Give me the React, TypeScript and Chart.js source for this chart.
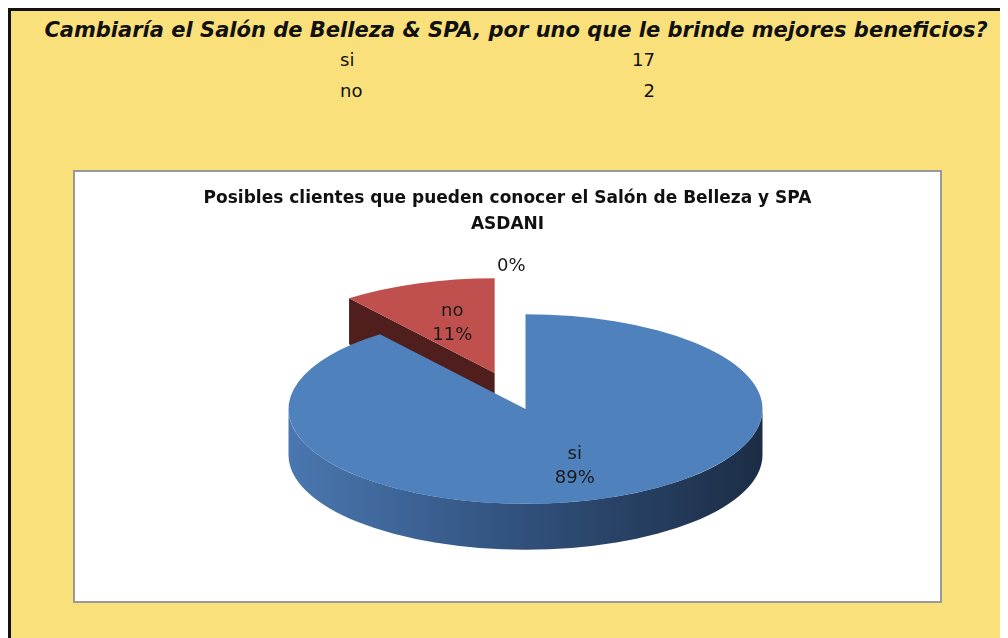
import React, { useEffect, useRef } from "react";
import { Chart, registerables } from "chart.js";
Chart.register(...registerables);

const pageTitle = "Cambiaría el Salón de Belleza & SPA, por uno que le brinde mejores beneficios?";
const chartTitle = ["Posibles clientes que pueden conocer el Salón de Belleza y SPA", "ASDANI"];
const categories = ["si", "no", ""];
const values = [17, 2, 0];
const sliceColors = ["#4F81BD", "#C0504D", "#9BBB59"];

const K = 0.4;
const DEPTH = 46;

const pie3d = {
  id: "pie3d",
  afterDatasetUpdate(chart: any, args: any, opts: any) {
    const meta = args.meta;
    if (!meta.data.length) return;
    const shift = opts.shiftX || 0;
    const shiftY = opts.shiftY || 0;
    chart.$pc = { x: meta.data[0].x + shift, y: meta.data[0].y + shiftY };
    meta.data.forEach((el: any, i: number) => {
      const d = (opts.explode || [])[i] || 0;
      const mid = (el.startAngle + el.endAngle) / 2;
      el.x += shift + Math.cos(mid) * d;
      el.y += shiftY + Math.sin(mid) * d;
    });
  },
  beforeDatasetsDraw(chart: any, _args: any, opts: any) {
    const ctx = chart.ctx;
    const pc = chart.$pc;
    if (!pc) return;
    const meta = chart.getDatasetMeta(0);
    const TAU = Math.PI * 2;
    meta.data.forEach((el: any, i: number) => {
      const s = el.startAngle, e = el.endAngle, R = el.outerRadius;
      if (e - s <= 1e-6) return;
      const sx = el.x, sy = pc.y + K * (el.y - pc.y);
      const face = (opts.faceColors || [])[i] || "#333";
      const side = (opts.sideColors || [])[i] || ["#666", "#333"];
      const quad = (a: number) => {
        ctx.beginPath();
        ctx.moveTo(sx, sy);
        ctx.lineTo(sx + R * Math.cos(a), sy + K * R * Math.sin(a));
        ctx.lineTo(sx + R * Math.cos(a), sy + K * R * Math.sin(a) + DEPTH);
        ctx.lineTo(sx, sy + DEPTH);
        ctx.closePath();
        ctx.fillStyle = face;
        ctx.fill();
      };
      if (Math.cos(s) < -1e-6) quad(s);
      if (Math.cos(e) > 1e-6) quad(e);
      for (let k = -1; k <= 1; k++) {
        const lo = Math.max(s, TAU * k);
        const hi = Math.min(e, TAU * k + Math.PI);
        if (hi - lo <= 1e-6) continue;
        ctx.beginPath();
        ctx.ellipse(sx, sy, R, K * R, 0, lo, hi, false);
        ctx.lineTo(sx + R * Math.cos(hi), sy + K * R * Math.sin(hi) + DEPTH);
        ctx.ellipse(sx, sy + DEPTH, R, K * R, 0, hi, lo, true);
        ctx.closePath();
        const g = ctx.createLinearGradient(sx - R, 0, sx + R, 0);
        g.addColorStop(0, side[0]);
        g.addColorStop(0.5, side[1]);
        g.addColorStop(1, side[2] || side[1]);
        ctx.fillStyle = g;
        ctx.fill();
      }
    });
    ctx.save();
    ctx.translate(pc.x, pc.y);
    ctx.scale(1, K);
    ctx.translate(-pc.x, -pc.y);
  },
  afterDatasetsDraw(chart: any, _args: any, opts: any) {
    const ctx = chart.ctx;
    const pc = chart.$pc;
    if (!pc) return;
    ctx.restore();
    const meta = chart.getDatasetMeta(0);
    const data = chart.data.datasets[0].data as number[];
    const labels = chart.data.labels as string[];
    const total = data.reduce((a, b) => a + b, 0);
    const fr = opts.labelRadius || [];
    ctx.save();
    ctx.font = opts.labelFont || "17px 'DejaVu Sans'";
    ctx.fillStyle = opts.labelColor || "#1a1a1a";
    ctx.textBaseline = "middle";
    meta.data.forEach((el: any, i: number) => {
      const v = data[i];
      const pct = Math.round((v / total) * 100) + "%";
      const mid = (el.startAngle + el.endAngle) / 2;
      const R = el.outerRadius;
      const f = fr[i] ?? (v > 0 ? 0.64 : 1.5);
      const px = el.x + Math.cos(mid) * R * f;
      const py = pc.y + K * (el.y + Math.sin(mid) * R * f - pc.y);
      if (v > 0) {
        ctx.textAlign = "center";
        const lh = opts.lineHeight || 24;
        ctx.fillText(labels[i], px, py - lh / 2);
        ctx.fillText(pct, px, py + lh / 2);
      } else {
        ctx.textAlign = "right";
        ctx.fillText(pct, px, py);
      }
    });
    ctx.restore();
  },
};

function PieChart() {
  const ref = useRef<HTMLCanvasElement | null>(null);
  useEffect(() => {
    if (!ref.current) return;
    const chart = new Chart(ref.current, {
      type: "pie",
      data: {
        labels: categories,
        datasets: [
          {
            data: values,
            backgroundColor: sliceColors,
            borderWidth: 0,
            radius: 237,
            clip: false,
          } as any,
        ],
      },
      options: {
        animation: false,
        responsive: false,
        events: [],
        layout: { padding: { bottom: 38 } },
        plugins: {
          legend: { display: false },
          tooltip: { enabled: false },
          title: {
            display: true,
            text: chartTitle,
            color: "#111",
            font: { family: "'DejaVu Sans'", weight: "bold", size: 17, lineHeight: 1.5 },
            padding: { top: 14, bottom: 10 },
          },
          pie3d: {
            shiftX: 18,
            shiftY: 4,
            explode: [0, 95, 0],
            labelRadius: [0.64, 0.55, 1.5],
            faceColors: ["#2b4468", "#4f1e1d", "#5a6e33"],
            sideColors: [
              ["#4a77b0", "#30507b", "#1c2d45"],
              ["#a04240", "#6a2a29", "#4a1c1b"],
              ["#7f9a49", "#55692f", "#3b4a20"],
            ],
            labelFont: "18px 'DejaVu Sans'",
            labelColor: "#1a1a1a",
            lineHeight: 24,
          },
        } as any,
      },
      plugins: [pie3d as any],
    });
    return () => chart.destroy();
  }, []);
  return <canvas ref={ref} width={865} height={429} style={{ display: "block" }} />;
}

export default function App() {
  useEffect(() => {
    document.body.style.overflow = "hidden";
  }, []);
  const rows = categories
    .map((c, i) => ({ c, v: values[i] }))
    .filter((r) => r.c !== "");
  return (
    <div
      style={{
        position: "relative",
        width: 1000,
        height: 630,
        boxSizing: "border-box",
        background: "#F9E07B",
        borderTop: "3px solid #111",
        borderLeft: "3px solid #111",
        overflow: "hidden",
        fontFamily: "'DejaVu Sans', sans-serif",
        color: "#111",
      }}
    >
      <div
        style={{
          position: "absolute",
          left: 13,
          right: 0,
          top: 7,
          textAlign: "center",
          fontFamily: "'DejaVu Sans'",
          fontWeight: "bold",
          fontStyle: "italic",
          fontSize: 21,
          lineHeight: "24px",
          whiteSpace: "nowrap",
        }}
      >
        {pageTitle}
      </div>
      {rows.map((r, i) => (
        <React.Fragment key={r.c}>
          <div
            style={{
              position: "absolute",
              left: 329,
              top: 38 + i * 31,
              fontSize: 18,
              lineHeight: "22px",
            }}
          >
            {r.c}
          </div>
          <div
            style={{
              position: "absolute",
              left: 544,
              width: 100,
              textAlign: "right",
              top: 38 + i * 31,
              fontSize: 18,
              lineHeight: "22px",
            }}
          >
            {r.v}
          </div>
        </React.Fragment>
      ))}
      <div
        style={{
          position: "absolute",
          left: 62,
          top: 159,
          width: 869,
          height: 433,
          boxSizing: "border-box",
          border: "2px solid #9a9a9a",
          background: "#fff",
          overflow: "hidden",
        }}
      >
        <PieChart />
      </div>
    </div>
  );
}
